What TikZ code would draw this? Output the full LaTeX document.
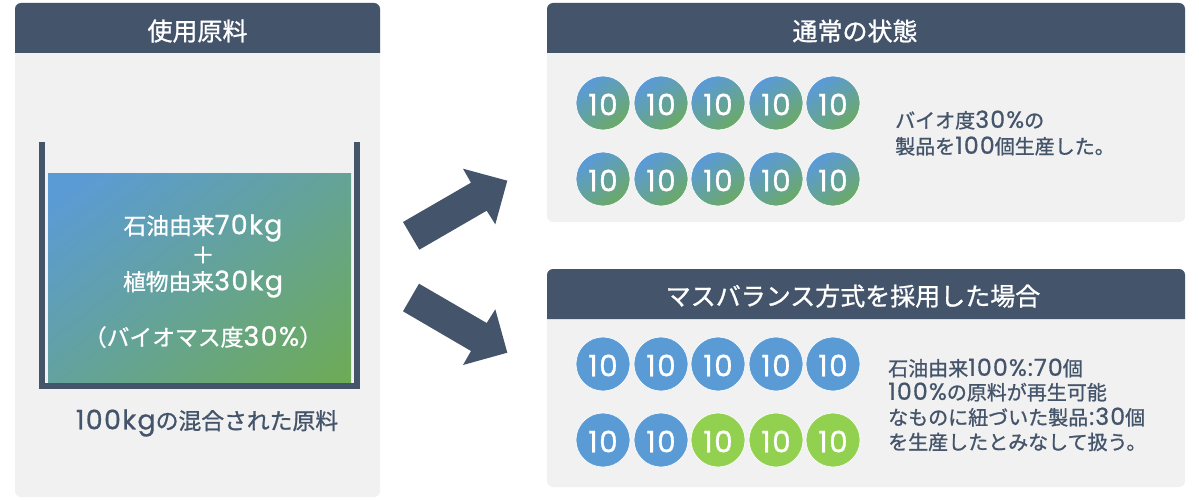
\documentclass[tikz,border=0pt]{standalone}
\usepackage{fontspec}
\setmainfont{Noto Sans CJK JP}[FakeBold=1]
\newfontfamily\latinf{Poppins}[Scale=1.18,LetterSpace=5,FakeBold=0.8]
\newcommand{\la}[1]{{\latinf #1}}
\newcommand{\ten}{\raisebox{-12.3pt}[0pt][0pt]{\la{10}}}
\definecolor{headc}{HTML}{44546A}
\definecolor{panelc}{HTML}{F1F1F1}
\definecolor{blueg}{HTML}{5B9BD5}
\definecolor{greeng}{HTML}{70AD47}
\definecolor{limeg}{HTML}{92D050}
\pgfdeclareverticalshading{diagrect}{100bp}{color(0bp)=(greeng); color(8bp)=(greeng); color(80bp)=(blueg); color(100bp)=(blueg)}
\pgfdeclareverticalshading{diagdisc}{100bp}{color(0bp)=(greeng); color(12bp)=(greeng); color(72bp)=(blueg); color(100bp)=(blueg)}
\tikzset{
  panel/.style={fill=panelc,rounded corners=6pt},
  header/.style={fill=headc},
  titletext/.style={text=white,font=\fontsize{25}{30}\selectfont,inner sep=0pt,anchor=center},
  disc/.style={circle,minimum size=54pt,inner sep=0pt,draw=white,line width=.6pt,text=white,font=\fontsize{25}{30}\selectfont},
  gradc/.style={disc,shade,shading=diagdisc,shading angle=35},
  bluec/.style={disc,fill=blueg},
  limec/.style={disc,fill=limeg},
  bodytext/.style={text=headc,font=\fontsize{20}{25}\selectfont,inner sep=0pt,anchor=west},
  innertext/.style={text=white,font=\fontsize{22.8}{27}\selectfont,inner sep=0pt,anchor=center},
  bigarrow/.style={fill=headc},
}
\begin{document}
\begin{tikzpicture}[x=1pt,y=-1pt]
\useasboundingbox (0,0) rectangle (1199,500);
\fill[white] (0,0) rectangle (1199,500);
% left panel
\fill[panel] (15,3) rectangle (380,497);
\fill[header] (15,53) [rounded corners=6pt] -- (15,3) -- (380,3) [sharp corners] -- (380,53) -- cycle;
\node[titletext] (t1) at (197.5,31) {使用原料};
% vessel
\fill[headc] (39,142) rectangle (45,389);
\fill[headc] (354,142) rectangle (360,389);
\fill[headc] (39,383) rectangle (360,389);
\node[rectangle,minimum width=303pt,minimum height=209pt,inner sep=0pt,shade,shading=diagrect,shading angle=38] (mix) at (199.5,277.5) {};
\node[innertext] (m1) at (203,228) {石油由来\la{70kg}};
\node[innertext] (m2) at (203,255) {＋};
\node[innertext] (m3) at (203,284) {植物由来\la{30kg}};
\node[innertext] (m4) at (203,337) {（バイオマス度\la{30\%}）};
\node[innertext,text=headc] (m5) at (207,423) {\la{100kg}の混合された原料};
% right top
\fill[panel] (547,3) rectangle (1185,222);
\fill[header] (547,53) [rounded corners=6pt] -- (547,3) -- (1185,3) [sharp corners] -- (1185,53) -- cycle;
\node[titletext] (t2) at (855,31) {通常の状態};
\foreach \x [count=\i] in {603,661,718,776,833}{
  \node[gradc] (a\i) at (\x,103) {\ten};
  \node[gradc] (b\i) at (\x,179) {\ten};
}
\node[bodytext] (n1) at (895,120) {バイオ度\la{30\%}の};
\node[bodytext] (n2) at (895,146) {製品を\la{100}個生産した。};
% right bottom
\fill[panel] (547,269) rectangle (1185,487);
\fill[header] (547,319) [rounded corners=6pt] -- (547,269) -- (1185,269) [sharp corners] -- (1185,319) -- cycle;
\node[titletext] (t3) at (853,296) {マスバランス方式を採用した場合};
\foreach \x [count=\i] in {603,661,718,776,833}{
  \node[bluec] (c\i) at (\x,364) {\ten};
}
\foreach \x/\s [count=\i] in {603/bluec,661/bluec,718/limec,776/limec,833/limec}{
  \node[\s] (d\i) at (\x,440) {\ten};
}
\node[bodytext] (r1) at (888,368) {石油由来\la{100\%\kern1pt:\kern1pt70}個};
\node[bodytext] (r2) at (888,392) {\la{100\%}の原料が再生可能};
\node[bodytext] (r3) at (888,417) {なものに紐づいた製品\la{\kern1pt:\kern1pt30}個};
\node[bodytext] (r4) at (888,442) {を生産したとみなして扱う。};
% arrows
\fill[bigarrow] (403,222) -- (419.3,249.7) -- (486.7,210.7) -- (495.3,224.3) -- (507.3,180.7) -- (463,168.7) -- (471,182.7) -- cycle;
\fill[bigarrow] (419,283.7) -- (403,311.3) -- (471,351) -- (463,365) -- (507.3,352.7) -- (495.3,309.3) -- (486.7,323) -- cycle;
\end{tikzpicture}
\end{document}
